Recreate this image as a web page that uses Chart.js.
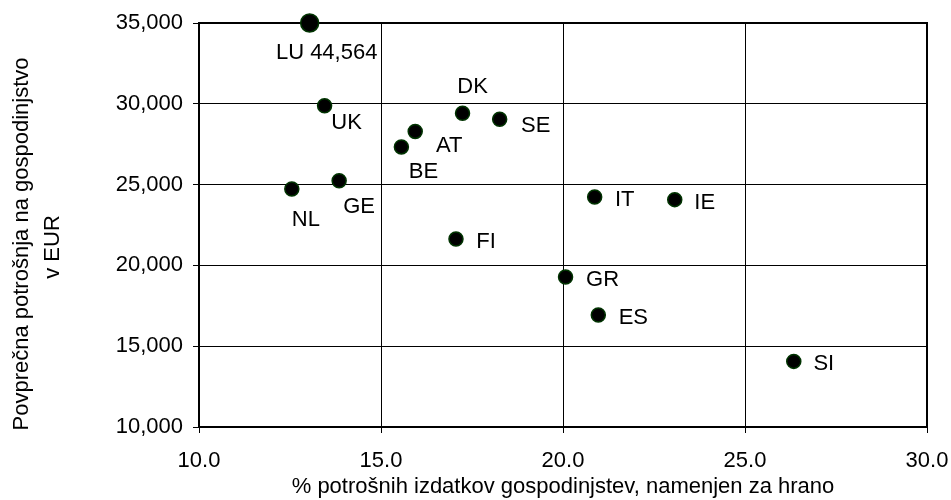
<!DOCTYPE html>
<html>
<head>
<meta charset="utf-8">
<script src="https://cdn.jsdelivr.net/npm/chart.js@4/dist/chart.umd.min.js"></script>
<style>
  body { margin: 0; background: #fff; }
</style>
</head>
<body>
<canvas id="scatterChart" width="951" height="500"></canvas>
<script>
// data
const countries = ['LU', 'UK', 'DK', 'SE', 'AT', 'BE', 'GE', 'NL', 'FI', 'IT', 'IE', 'GR', 'ES', 'SI'];
const foodShare = [13.04, 13.45, 17.24, 18.26, 15.94, 15.56, 13.85, 12.55, 17.06, 20.87, 23.07, 20.07, 20.97, 26.34];
const consumption = [44564, 29880, 29410, 29040, 28290, 27330, 25240, 24730, 21630, 24230, 24070, 19280, 16930, 14060];
const xTicks = [10, 15, 20, 25, 30];
const yTicks = [10000, 15000, 20000, 25000, 30000, 35000];

const xTitle = '% potrošnih izdatkov gospodinjstev, namenjen za hrano';
const yTitle = ['Povprečna potrošnja na gospodinjstvo', 'v EUR'];

const FONT = "'Liberation Sans', Arial, sans-serif";
const FONT_SIZE = 22;
const yMax = yTicks[yTicks.length - 1];

// label offsets from the marker centre (px)
const labelOffsets = {
  LU: [17, 30], UK: [22, 17], DK: [10, -26], SE: [36, 7], AT: [34, 15],
  BE: [22, 25], GE: [20, 26], NL: [14, 31], FI: [30, 3], IT: [30, 3],
  IE: [30, 3], GR: [37, 3], ES: [35, 3], SI: [30, 3]
};

function getPoints() {
  // values above the axis max sit on the top edge (LU)
  return countries.map((c, i) => ({ x: foodShare[i], y: Math.min(consumption[i], yMax) }));
}

const pointLabels = {
  id: 'pointLabels',
  afterDatasetsDraw(chart) {
    const ctx = chart.ctx;
    const meta = chart.getDatasetMeta(0);
    ctx.save();
    ctx.font = FONT_SIZE + 'px ' + FONT;
    ctx.fillStyle = '#000';
    ctx.textAlign = 'center';
    ctx.textBaseline = 'middle';
    meta.data.forEach((pt, i) => {
      const c = countries[i];
      let text = c;
      if (consumption[i] > yMax) {
        text = c + ' ' + consumption[i].toLocaleString('en-US');
      }
      const off = labelOffsets[c] || [25, 0];
      ctx.fillText(text, pt.x + off[0], pt.y + off[1]);
    });
    ctx.restore();
  }
};

const frameAndTitle = {
  id: 'frameAndTitle',
  beforeDatasetsDraw(chart) {
    const { ctx, chartArea } = chart;
    ctx.save();
    ctx.strokeStyle = '#000';
    ctx.lineWidth = 2;
    ctx.strokeRect(chartArea.left, chartArea.top, chartArea.right - chartArea.left, chartArea.bottom - chartArea.top);
    ctx.restore();
  },
  afterDraw(chart) {
    const ctx = chart.ctx;
    ctx.save();
    ctx.font = FONT_SIZE + 'px ' + FONT;
    ctx.fillStyle = '#000';
    ctx.textAlign = 'center';
    ctx.textBaseline = 'middle';
    ctx.translate(22, 244);
    ctx.rotate(-Math.PI / 2);
    ctx.fillText(yTitle[0], 0, 0);
    ctx.fillText(yTitle[1], -3, 31);
    ctx.restore();
  }
};

function main() {
  const ctx = document.getElementById('scatterChart').getContext('2d');
  new Chart(ctx, {
    type: 'scatter',
    data: {
      datasets: [{
        data: getPoints(),
        backgroundColor: '#000',
        borderColor: '#003300',
        borderWidth: 1.5,
        pointRadius: countries.map((c, i) => consumption[i] > yMax ? 9 : 7),
        pointHoverRadius: 7,
        clip: false
      }]
    },
    options: {
      responsive: false,
      animation: false,
      devicePixelRatio: 1,
      layout: { padding: { top: 23, right: 24, left: 0, bottom: 0 } },
      plugins: {
        legend: { display: false },
        tooltip: { enabled: false }
      },
      scales: {
        x: {
          type: 'linear',
          min: xTicks[0],
          max: xTicks[xTicks.length - 1],
          afterBuildTicks(scale) { scale.ticks = xTicks.map(v => ({ value: v })); },
          afterFit(scale) {
            scale.height = 73;
            scale.paddingLeft = 0;
            scale.paddingRight = 0;
          },
          ticks: {
            color: '#000',
            font: { family: FONT, size: FONT_SIZE },
            padding: 15,
            maxRotation: 0,
            callback: v => Number(v).toFixed(1)
          },
          grid: { color: '#000', lineWidth: 1, tickLength: 6, tickColor: '#000' },
          border: { color: '#000', width: 2 },
          title: {
            display: true,
            text: xTitle,
            color: '#000',
            font: { family: FONT, size: FONT_SIZE },
            padding: { top: 0, bottom: 0 }
          }
        },
        y: {
          type: 'linear',
          min: yTicks[0],
          max: yMax,
          afterBuildTicks(scale) { scale.ticks = yTicks.map(v => ({ value: v })); },
          afterFit(scale) {
            scale.width = 199;
            scale.paddingTop = 0;
            scale.paddingBottom = 0;
          },
          ticks: {
            color: '#000',
            font: { family: FONT, size: FONT_SIZE },
            padding: 10,
            callback: v => Number(v).toLocaleString('en-US')
          },
          grid: { color: '#000', lineWidth: 1, tickLength: 6, tickColor: '#000' },
          border: { color: '#000', width: 2 }
        }
      }
    },
    plugins: [frameAndTitle, pointLabels]
  });
}

window.onload = main;
</script>
</body>
</html>
